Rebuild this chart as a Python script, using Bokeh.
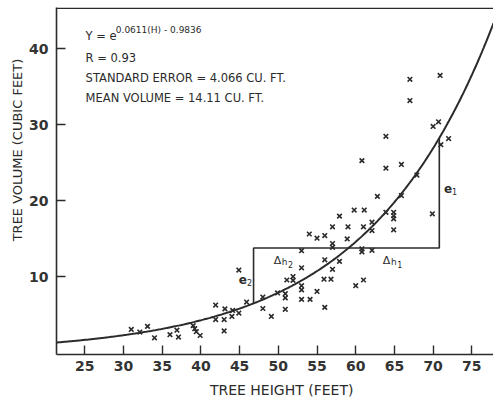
import math
import numpy as np
from bokeh.plotting import figure
from bokeh.models import Label, Span, Range1d, FixedTicker
from bokeh.embed import file_html
from bokeh.resources import INLINE

# ---- data ----
height_ft = [31.0, 32.1, 33.1, 34.0, 36.0, 36.9, 37.1, 39.0, 39.2, 39.4, 39.9,
             41.9, 41.9, 43.0, 43.1, 43.0, 44.0, 44.1, 44.9, 45.9, 44.9,
             48.0, 48.0, 49.1, 49.9, 50.9, 50.9, 50.9, 51.1, 51.9, 51.9,
             53.0, 53.0, 53.0, 53.0, 53.0, 54.1, 55.0, 55.9, 56.8, 56.0, 57.0, 57.9, 56.0,
             54.0, 55.0, 56.0, 57.0, 57.0, 58.9, 60.0, 61.0,
             62.8, 59.8, 61.1, 57.9, 63.9, 64.9, 64.9, 64.9, 64.9, 62.1, 62.1, 61.0, 59.0, 57.0,
             60.8, 60.8, 62.1,
             63.9, 60.8, 63.9, 65.9, 67.9, 65.9, 69.9, 67.0, 70.9, 67.0, 70.0, 70.7, 72.0, 71.0]
volume_cuft = [3.1, 2.75, 3.5, 2.0, 2.4, 3.0, 2.1, 3.6, 3.2, 2.8, 2.3,
               6.3, 4.4, 4.4, 5.8, 2.9, 4.8, 5.6, 5.25, 6.7, 10.9,
               7.35, 5.85, 4.8, 7.9, 7.8, 7.25, 5.75, 9.6, 10.05, 9.55,
               13.45, 11.2, 8.85, 8.3, 7.05, 7.05, 8.1, 9.7, 9.7, 12.25, 11.0, 12.05, 6.0,
               15.65, 15.1, 15.45, 14.4, 13.9, 15.0, 8.85, 9.6,
               20.6, 18.8, 18.8, 18.0, 18.5, 18.5, 18.05, 17.65, 16.2, 17.2, 16.1, 16.6, 16.6, 16.6,
               13.7, 13.3, 13.5,
               28.5, 25.3, 24.3, 24.8, 23.4, 20.7, 18.3, 36.0, 36.5, 33.2, 29.8, 30.4, 28.2, 27.4]

# regression stated on the chart: Y = e^(0.0611 H - 0.9836)
FIT_SLOPE = 0.0611
FIT_INTERCEPT = -0.9836
REF_LEVEL = 13.8        # horizontal reference line (cu. ft.)
E2_HEIGHT = 46.8        # left vertical (e2)
E1_HEIGHT = 70.8        # right vertical (e1)

x_ticks = [25, 30, 35, 40, 45, 50, 55, 60, 65, 70, 75]
y_ticks = [10, 20, 30, 40]

eq_main = "Y = e"
eq_exp = "0.0611(H) - 0.9836"
stat_lines = ["R = 0.93", "STANDARD ERROR = 4.066 CU. FT.", "MEAN VOLUME = 14.11 CU. FT."]
x_title = "TREE HEIGHT (FEET)"
y_title = "TREE VOLUME (CUBIC FEET)"

INK = "#2b2b2b"
FONT = "DejaVu Sans"
NBSP = "\u00a0"

X0, X1 = 21.34, 77.8
Y0, Y1 = -0.2, 45.44

p = figure(width=493, height=405, x_range=Range1d(X0, X1), y_range=Range1d(Y0, Y1),
           output_backend="svg", toolbar_location=None,
           min_border_left=56, min_border_right=0, min_border_top=7, min_border_bottom=51)
p.grid.visible = False
p.outline_line_color = None
p.background_fill_color = "white"
p.border_fill_color = "white"

for ax in (p.xaxis[0], p.yaxis[0]):
    ax.major_tick_in = 9
    ax.major_tick_out = 0
    ax.minor_tick_line_color = None
    ax.axis_line_width = 1.6
    ax.axis_line_color = INK
    ax.major_tick_line_color = INK
    ax.major_tick_line_width = 1.4
    ax.major_label_text_font = FONT
    ax.major_label_text_font_style = "bold"
    ax.major_label_text_font_size = "14px"
    ax.major_label_text_color = "#333333"
    ax.axis_label_text_font = FONT
    ax.axis_label_text_font_style = "normal"
    ax.axis_label_text_color = INK
p.xaxis.ticker = FixedTicker(ticks=x_ticks)
p.yaxis.ticker = FixedTicker(ticks=y_ticks)
p.xaxis.major_label_standoff = 6
p.yaxis.major_label_standoff = 8

# leading no-break spaces nudge the centred titles toward the reference positions
p.xaxis.axis_label = NBSP * 3 + x_title
p.xaxis.axis_label_text_font_size = "14px"
p.xaxis.axis_label_standoff = 8
p.yaxis.axis_label = NBSP * 15 + y_title
p.yaxis.axis_label_text_font_size = "13px"
p.yaxis.axis_label_standoff = 1

p.add_layout(Span(location=Y1 - 0.1, dimension="width", line_color=INK, line_width=1.6))

# fitted curve
hc = np.linspace(X0, X1, 400)
vc = np.exp(FIT_SLOPE * hc + FIT_INTERCEPT)
p.line(hc, vc, line_color=INK, line_width=2)

def fit(h):
    return math.exp(FIT_SLOPE * h + FIT_INTERCEPT)

# residual / delta construction
p.line([E2_HEIGHT, E2_HEIGHT, E1_HEIGHT, E1_HEIGHT],
       [fit(E2_HEIGHT), REF_LEVEL, REF_LEVEL, fit(E1_HEIGHT)],
       line_color=INK, line_width=1.6)

# scatter
p.scatter(height_ft, volume_cuft, marker="x", size=6.5, line_width=1.6, line_color=INK)

def lab(x, y, text, size, style="normal", yo=0):
    p.add_layout(Label(x=x, y=y, text=text,
                       text_font=FONT, text_font_size=size, text_font_style=style,
                       text_color=INK, text_align="left", text_baseline="middle",
                       y_offset=yo))

# equation block
lab(25.1, 41.75, eq_main, "11.5px")
lab(29.0, 42.5, eq_exp, "9px")
for yv, t in zip([38.85, 36.2, 33.6], stat_lines):
    lab(25.1, yv, t, "11.5px")

# delta labels
lab(49.4, 12.2, "Δ", "11px")
lab(50.45, 12.2, "h", "9px", yo=-2)
lab(51.25, 12.2, "2", "8px", yo=-4)
lab(63.5, 12.2, "Δ", "11px")
lab(64.55, 12.2, "h", "9px", yo=-2)
lab(65.35, 12.2, "1", "8px", yo=-4)

# e labels
lab(44.9, 9.7, "e", "12px", style="bold")
lab(45.95, 9.7, "2", "8px", yo=-3)
lab(71.4, 21.6, "e", "12px", style="bold")
lab(72.45, 21.6, "1", "8px", yo=-3)

open("out.html", "w").write(file_html(p, INLINE))
